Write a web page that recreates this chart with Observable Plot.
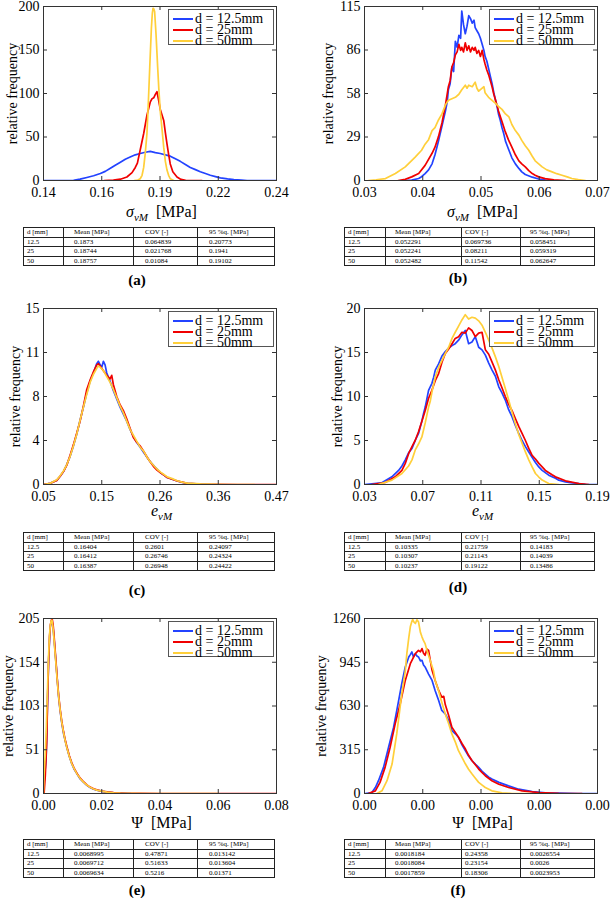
<!DOCTYPE html>
<html><head><meta charset="utf-8">
<script src="https://cdn.jsdelivr.net/npm/d3@7"></script>
<script src="https://cdn.jsdelivr.net/npm/@observablehq/plot@0.6"></script>
<style>
body{margin:0;background:#fff;}
#page{position:relative;width:610px;height:898px;overflow:hidden;font-family:'Liberation Serif','DejaVu Serif',serif;color:#000;}
.plot{position:absolute;}
.plot text{font-family:'Liberation Serif','DejaVu Serif',serif;}
.legend{position:absolute;border:1px solid #555;background:#fff;box-sizing:border-box;padding-top:3px;}
.legend .row{height:11px;display:flex;align-items:center;white-space:nowrap;}
.legend .lt{display:inline-block;height:11px;line-height:11px;font-size:14px;}
.legend .sw{width:20px;height:0;border-top:2px solid;margin:0 2px 0 4px;}
table.st{position:absolute;border-collapse:collapse;font-size:7px;table-layout:fixed;}
table.st td{border:1px solid #222;padding:0;height:8.5px;line-height:8px;white-space:nowrap;}
.xl{position:absolute;transform:translate(-50%,-50%);font-size:16px;white-space:nowrap;}
.xl sub{font-size:11px;}
.sub{position:absolute;transform:translate(-50%,-50%);font-size:15px;font-weight:bold;}
</style>
</head><body><div id="page"></div>
<script>
// ---------------- DATA ----------------
const seriesNames = ["d = 12.5mm", "d = 25mm", "d = 50mm"];
const colors = ["#2343ff", "#f00000", "#ffcf3a"];
const tableHeader = ["d [mm]", "Mean [MPa]", "COV [-]", "95 %q. [MPa]"];

// (a) sigma_vM
const aXT = [0.14, 0.165, 0.19, 0.215, 0.24];
const aXL = ["0.14", "0.16", "0.19", "0.22", "0.24"];
const aYT = [0, 50, 100, 150, 200];
const aYL = ["0", "50", "100", "150", "200"];
const a125 = [[0.14,0],[0.150,0],[0.1529,0.3],[0.1557,1.5],[0.1586,3.5],[0.1615,5.5],[0.1644,8],[0.1665,10.5],[0.1687,14],[0.1708,17.5],[0.1730,21],[0.1751,24.5],[0.1772,27],[0.1794,29.5],[0.1815,31],[0.1837,32.5],[0.1858,33.5],[0.1880,32],[0.1901,31],[0.1923,29.5],[0.1944,28],[0.1966,25],[0.1987,22],[0.2009,18.5],[0.2030,15],[0.2052,12.5],[0.2073,10],[0.2095,8],[0.2116,6],[0.2138,4.5],[0.2159,3],[0.219,1.8],[0.2217,1],[0.225,0.4],[0.2274,0],[0.24,0]];
const a25 = [[0.1660,0],[0.1700,0.5],[0.1730,1.5],[0.1758,4],[0.1780,9],[0.1794,15],[0.1803,20],[0.1815,35],[0.1830,54],[0.1844,75],[0.1858,90],[0.1866,94],[0.1873,95],[0.1880,99],[0.1887,102],[0.1893,94],[0.1901,82],[0.1909,75],[0.1916,69],[0.1923,55],[0.1930,42],[0.1937,30],[0.1944,19],[0.1955,10],[0.1973,4],[0.1990,1.2],[0.2010,0.3],[0.2080,0]];
const a50 = [[0.1790,0],[0.1805,0.5],[0.1815,2],[0.1823,6],[0.1830,15],[0.1837,32],[0.1844,54],[0.1850,90],[0.1856,130],[0.1863,175],[0.1867,192],[0.1870,198],[0.1874,197],[0.1877,194],[0.1883,168],[0.1890,130],[0.1895,105],[0.1901,80],[0.1909,58],[0.1916,38],[0.1923,22],[0.1930,12],[0.1937,6],[0.1944,2],[0.1959,0]];
const aTable = [["12.5","0.1873","0.064839","0.20773"],["25","0.18744","0.021768","0.1941"],["50","0.18757","0.01084","0.19102"]];

// (b) sigma_vM
const bXT = [0.03, 0.04, 0.05, 0.06, 0.07];
const bXL = ["0.03", "0.04", "0.05", "0.06", "0.07"];
const bYT = [0, 28.75, 57.5, 86.25, 115];
const bYL = ["0", "29", "58", "86", "115"];
const b125 = [[0.0370,0],[0.0381,0.3],[0.0393,1.3],[0.0398,2.5],[0.0404,4.6],[0.0410,7],[0.0416,11],[0.0421,17],[0.0427,26],[0.0433,36],[0.0439,46],[0.0442,52],[0.0444,60],[0.0447,64],[0.0450,75],[0.0453,72],[0.0456,92],[0.0459,88],[0.0462,96],[0.0465,94],[0.0467,112],[0.0470,103],[0.0473,97],[0.0476,102],[0.0479,109],[0.0482,107],[0.0485,104],[0.0488,106],[0.0490,101],[0.0493,99],[0.0496,97],[0.0499,94],[0.0502,90],[0.0505,86],[0.0507,82],[0.0510,79],[0.0513,74],[0.0516,69],[0.0519,64],[0.0522,58],[0.0525,53],[0.0528,48],[0.0530,44],[0.0533,40],[0.0536,35],[0.0539,31],[0.0542,26],[0.0545,23],[0.0548,20],[0.0553,15],[0.0559,11],[0.0565,8],[0.0570,5.7],[0.0576,4],[0.0588,2.2],[0.0599,1],[0.0611,0.3],[0.0625,0]];
const b25 = [[0.0358,0],[0.0370,0.8],[0.0381,2.4],[0.0393,4.6],[0.0404,10],[0.0416,18],[0.0421,22],[0.0427,29],[0.0433,38],[0.0439,50],[0.0444,62],[0.0447,66],[0.0450,75],[0.0453,78],[0.0456,83],[0.0459,85],[0.0462,90],[0.0465,86],[0.0467,88],[0.0470,85],[0.0473,91],[0.0476,86],[0.0479,89],[0.0482,85],[0.0485,88],[0.0488,86],[0.0490,88],[0.0493,84],[0.0496,86],[0.0499,82],[0.0502,86],[0.0505,80],[0.0507,77],[0.0510,73],[0.0513,70],[0.0516,66],[0.0519,62],[0.0522,57],[0.0525,53],[0.0528,49],[0.0530,46],[0.0536,39],[0.0541,33],[0.0547,27],[0.0553,22],[0.0559,17],[0.0565,13],[0.0570,11],[0.0576,9],[0.0582,6.5],[0.0588,4.6],[0.0593,3.5],[0.0599,2.4],[0.0610,1.2],[0.0625,0.4],[0.0645,0]];
const b50 = [[0.0307,0],[0.0320,0.5],[0.0336,1.3],[0.0353,4.6],[0.0370,9],[0.0387,15.5],[0.0398,20],[0.0404,24],[0.0410,27],[0.0416,33],[0.0421,35],[0.0427,40],[0.0433,44],[0.0439,50],[0.0444,53],[0.0450,54],[0.0456,55],[0.0462,57],[0.0467,60],[0.0473,63],[0.0476,61],[0.0479,63],[0.0485,62],[0.0490,65],[0.0493,61],[0.0496,59],[0.0502,61],[0.0505,62],[0.0507,58],[0.0513,55],[0.0519,53],[0.0525,51],[0.0530,49],[0.0536,47],[0.0542,44],[0.0548,42],[0.0553,37],[0.0559,33],[0.0565,30],[0.0570,26.5],[0.0576,23],[0.0582,20],[0.0588,16],[0.0593,13],[0.0599,11],[0.0605,9],[0.0613,7],[0.0622,5.7],[0.0630,4.5],[0.0639,3.5],[0.0648,2.4],[0.0656,1.3],[0.0667,0.6],[0.0679,0]];
const bTable = [["12.5","0.052291","0.069736","0.058451"],["25","0.052241","0.08211","0.059319"],["50","0.052482","0.11542","0.062647"]];

// (c) e_vM
const cXT = [0.05, 0.155, 0.26, 0.365, 0.47];
const cXL = ["0.05", "0.15", "0.26", "0.36", "0.47"];
const cYT = [0, 3.75, 7.5, 11.25, 15];
const cYL = ["0", "4", "8", "11", "15"];
const c125 = [[0.05,0],[0.062,0.1],[0.074,0.37],[0.080,0.7],[0.086,1.1],[0.092,1.7],[0.098,2.4],[0.104,3.3],[0.110,4.3],[0.116,5.5],[0.122,6.6],[0.128,7.8],[0.134,8.8],[0.140,9.5],[0.146,10.3],[0.149,10.5],[0.152,10.2],[0.155,10.0],[0.158,10.5],[0.161,10.2],[0.164,9.5],[0.170,8.8],[0.176,8.0],[0.182,7.3],[0.188,6.6],[0.194,6.0],[0.200,5.4],[0.206,4.7],[0.212,4.1],[0.218,3.6],[0.224,3.2],[0.231,2.7],[0.237,2.3],[0.243,1.9],[0.249,1.6],[0.255,1.3],[0.261,1.0],[0.267,0.8],[0.273,0.6],[0.282,0.45],[0.291,0.3],[0.300,0.18],[0.309,0.1],[0.333,0.03],[0.350,0]];
const c25 = [[0.05,0],[0.062,0.1],[0.074,0.35],[0.080,0.7],[0.086,1.1],[0.092,1.65],[0.098,2.5],[0.104,3.4],[0.110,4.4],[0.116,5.4],[0.122,6.7],[0.128,8.1],[0.134,8.9],[0.140,9.6],[0.146,10.2],[0.149,10.3],[0.152,10.1],[0.158,9.7],[0.164,9.3],[0.170,9.0],[0.173,9.3],[0.176,8.5],[0.182,7.5],[0.188,6.8],[0.194,6.3],[0.200,5.6],[0.206,4.8],[0.212,4.0],[0.218,3.6],[0.224,3.3],[0.231,2.8],[0.237,2.3],[0.243,1.9],[0.249,1.5],[0.255,1.2],[0.261,1.0],[0.267,0.8],[0.273,0.6],[0.282,0.45],[0.291,0.3],[0.300,0.2],[0.309,0.1],[0.333,0.04],[0.360,0.02],[0.400,0],[0.470,0]];
const c50 = [[0.05,0],[0.062,0.1],[0.074,0.4],[0.080,0.75],[0.086,1.15],[0.092,1.7],[0.098,2.4],[0.104,3.3],[0.110,4.3],[0.116,5.5],[0.122,6.6],[0.128,7.7],[0.134,8.7],[0.140,9.4],[0.146,9.9],[0.149,10.1],[0.152,10.0],[0.158,9.7],[0.164,9.2],[0.170,8.7],[0.176,8.1],[0.182,7.4],[0.188,6.7],[0.194,6.1],[0.200,5.4],[0.206,4.7],[0.212,4.2],[0.218,3.7],[0.224,3.2],[0.231,2.8],[0.237,2.3],[0.243,1.9],[0.249,1.6],[0.255,1.3],[0.261,1.05],[0.267,0.85],[0.273,0.65],[0.282,0.5],[0.291,0.32],[0.300,0.2],[0.309,0.12],[0.333,0.05],[0.360,0.02],[0.380,0],[0.430,0]];
const cTable = [["12.5","0.16404","0.2601","0.24097"],["25","0.16412","0.26746","0.24324"],["50","0.16387","0.26948","0.24422"]];

// (d) e_vM
const dXT = [0.03, 0.07, 0.11, 0.15, 0.19];
const dXL = ["0.03", "0.07", "0.11", "0.15", "0.19"];
const dYT = [0, 5, 10, 15, 20];
const dYL = ["0", "5", "10", "15", "20"];
const d125 = [[0.0300,0],[0.0419,0.2],[0.0488,0.87],[0.0534,1.6],[0.0557,2.1],[0.0580,2.8],[0.0603,3.6],[0.0626,4.1],[0.0648,5.0],[0.0671,5.8],[0.0694,7.2],[0.0706,8.1],[0.0717,8.8],[0.0740,10.7],[0.0763,11.5],[0.0775,12.2],[0.0786,13.0],[0.0809,13.7],[0.0832,14.6],[0.0855,15.1],[0.0878,15.5],[0.0901,15.8],[0.0923,16.0],[0.0946,16.4],[0.0969,17.0],[0.0992,17.5],[0.1015,16.0],[0.1038,16.2],[0.1061,16.8],[0.1084,15.6],[0.1107,15.3],[0.1130,14.7],[0.1153,13.8],[0.1176,13.0],[0.1199,12.3],[0.1222,11.1],[0.1244,10.4],[0.1267,9.6],[0.1290,8.5],[0.1313,7.7],[0.1336,6.7],[0.1359,5.8],[0.1382,5.0],[0.1405,4.3],[0.1428,3.7],[0.1451,3.1],[0.1474,2.5],[0.1497,2.0],[0.1520,1.6],[0.1565,1.06],[0.1611,0.7],[0.1634,0.49],[0.1680,0.3],[0.1726,0.19],[0.1817,0.03],[0.1900,0]];
const d25 = [[0.0350,0],[0.0442,0.23],[0.0511,0.87],[0.0557,1.6],[0.0580,2.4],[0.0603,3.5],[0.0626,4.3],[0.0648,5.0],[0.0671,6.0],[0.0694,7.2],[0.0717,8.4],[0.0740,9.8],[0.0763,10.7],[0.0786,11.8],[0.0809,12.6],[0.0832,13.9],[0.0855,14.9],[0.0878,15.4],[0.0901,16.0],[0.0923,16.6],[0.0946,16.8],[0.0969,17.3],[0.0992,17.2],[0.1015,17.8],[0.1038,17.5],[0.1061,16.8],[0.1084,17.2],[0.1107,17.3],[0.1130,15.3],[0.1153,14.8],[0.1176,13.9],[0.1199,13.0],[0.1222,11.9],[0.1244,11.0],[0.1267,10.0],[0.1290,9.1],[0.1313,8.4],[0.1336,7.5],[0.1359,6.6],[0.1382,5.8],[0.1405,5.0],[0.1428,4.1],[0.1451,3.3],[0.1474,2.9],[0.1497,2.4],[0.1520,2.0],[0.1542,1.6],[0.1588,1.1],[0.1611,0.87],[0.1680,0.42],[0.1772,0.11],[0.1840,0]];
const d50 = [[0.0396,0],[0.0488,0.5],[0.0557,1.25],[0.0603,2.1],[0.0626,2.8],[0.0648,3.9],[0.0671,4.6],[0.0694,5.4],[0.0717,7.0],[0.0740,8.8],[0.0752,9.5],[0.0763,10.5],[0.0786,12.2],[0.0809,13.3],[0.0832,14.1],[0.0855,14.9],[0.0878,15.6],[0.0901,16.6],[0.0923,17.3],[0.0946,18.0],[0.0969,18.7],[0.0992,19.3],[0.1015,18.8],[0.1038,19.0],[0.1061,18.9],[0.1084,18.6],[0.1107,18.1],[0.1130,17.3],[0.1153,16.4],[0.1176,15.5],[0.1199,14.5],[0.1222,13.4],[0.1244,12.2],[0.1267,10.9],[0.1290,9.6],[0.1313,8.2],[0.1336,6.9],[0.1359,5.7],[0.1382,4.7],[0.1405,3.7],[0.1428,2.8],[0.1451,2.0],[0.1474,1.25],[0.1497,0.85],[0.1520,0.5],[0.1565,0.11],[0.1634,0]];
const dTable = [["12.5","0.10335","0.21759","0.14183"],["25","0.10307","0.21143","0.14039"],["50","0.10237","0.19122","0.13486"]];

// (e) Psi
const eXT = [0, 0.02, 0.04, 0.06, 0.08];
const eXL = ["0.00", "0.02", "0.04", "0.06", "0.08"];
const eYT = [0, 51.25, 102.5, 153.75, 205];
const eYL = ["0", "51", "103", "154", "205"];
const e125 = [[0.0000,0],[0.0003,18],[0.0009,40],[0.0014,110],[0.0017,150],[0.0020,175],[0.0023,195],[0.0026,200],[0.0029,201],[0.0032,197],[0.0034,190],[0.0037,178],[0.0040,165],[0.0044,148],[0.0048,130],[0.0052,113],[0.0057,97],[0.0063,82],[0.0069,70],[0.0075,61],[0.0080,54],[0.0089,43],[0.0097,35],[0.0106,28],[0.0115,23],[0.0126,17],[0.0138,13],[0.0149,9.5],[0.0160,7],[0.0172,5],[0.0183,3.9],[0.0200,2.5],[0.0218,1.6],[0.0241,0.8],[0.0264,0.4],[0.0300,0]];
const e25 = [[0.0002,0],[0.0006,20],[0.0011,60],[0.0015,125],[0.0018,160],[0.0021,185],[0.0024,198],[0.0027,203],[0.0030,204],[0.0033,198],[0.0036,186],[0.0039,172],[0.0043,154],[0.0047,135],[0.0052,115],[0.0057,99],[0.0063,84],[0.0069,72],[0.0075,62],[0.0080,55],[0.0089,44],[0.0097,36],[0.0106,29],[0.0115,23.5],[0.0126,18],[0.0138,13.5],[0.0149,10],[0.0160,7.5],[0.0172,5.5],[0.0183,4.2],[0.0200,2.8],[0.0218,1.8],[0.0241,1.0],[0.0264,0.6],[0.0290,0.3],[0.0330,0.1],[0.0400,0],[0.0800,0]];
const e50 = [[0.0000,0],[0.0002,22],[0.0006,45],[0.0010,80],[0.0014,125],[0.0017,158],[0.0020,182],[0.0023,196],[0.0026,202],[0.0029,203],[0.0032,196],[0.0035,185],[0.0038,172],[0.0042,155],[0.0046,137],[0.0051,117],[0.0057,98],[0.0063,83],[0.0069,71],[0.0075,61],[0.0080,54],[0.0089,43],[0.0097,35],[0.0106,28.5],[0.0115,23],[0.0126,17.5],[0.0138,13],[0.0149,10],[0.0160,7.2],[0.0172,5.2],[0.0183,4],[0.0200,2.7],[0.0218,1.7],[0.0241,0.9],[0.0264,0.5],[0.0300,0.2],[0.0350,0],[0.0600,0]];
const eTable = [["12.5","0.0068995","0.47871","0.013142"],["25","0.0069712","0.51633","0.013604"],["50","0.0069634","0.5216","0.01371"]];

// (f) Psi
const fXT = [0, 0.0015, 0.003, 0.0045, 0.006];
const fXL = ["0.00", "0.00", "0.00", "0.00", "0.00"];
const fYT = [0, 315, 630, 945, 1260];
const fYL = ["0", "315", "630", "945", "1260"];
const f125 = [[0.00002,0],[0.00019,7],[0.00028,43],[0.00036,92],[0.00049,188],[0.00062,333],[0.00075,477],[0.00088,670],[0.00096,790],[0.00105,911],[0.00110,950],[0.00114,983],[0.00118,1000],[0.00122,1019],[0.00126,985],[0.00131,1007],[0.00135,990],[0.00139,983],[0.00144,955],[0.00148,959],[0.00152,925],[0.00156,911],[0.00165,860],[0.00174,814],[0.00182,740],[0.00191,670],[0.00199,598],[0.00208,573],[0.00217,525],[0.00225,453],[0.00234,430],[0.00242,405],[0.00251,350],[0.00260,308],[0.00268,270],[0.00277,236],[0.00286,210],[0.00294,188],[0.00303,160],[0.00311,140],[0.00320,118],[0.00328,104],[0.00346,80],[0.00371,55],[0.00397,31],[0.00432,14],[0.00466,5],[0.00500,2],[0.00550,0],[0.00600,0]];
const f25 = [[0.00010,0],[0.00028,19],[0.00040,80],[0.00053,188],[0.00066,333],[0.00079,501],[0.00092,646],[0.00105,814],[0.00118,935],[0.00126,980],[0.00131,1007],[0.00139,1031],[0.00144,1020],[0.00148,1043],[0.00152,1010],[0.00156,995],[0.00161,1040],[0.00165,1031],[0.00170,950],[0.00174,887],[0.00182,814],[0.00191,742],[0.00199,694],[0.00204,700],[0.00208,640],[0.00217,560],[0.00225,477],[0.00234,440],[0.00242,405],[0.00251,360],[0.00260,320],[0.00268,275],[0.00277,236],[0.00286,205],[0.00294,176],[0.00303,150],[0.00311,128],[0.00328,92],[0.00346,67],[0.00371,43],[0.00406,19],[0.00449,7],[0.00500,1],[0.00560,0]];
const f50 = [[0.00032,0],[0.00045,19],[0.00058,92],[0.00071,212],[0.00083,429],[0.00096,718],[0.00105,880],[0.00109,1007],[0.00114,1120],[0.00118,1200],[0.00122,1240],[0.00124,1253],[0.00127,1235],[0.00131,1224],[0.00135,1250],[0.00139,1236],[0.00144,1160],[0.00148,1128],[0.00152,1100],[0.00156,1079],[0.00161,1030],[0.00169,959],[0.00178,880],[0.00182,814],[0.00191,740],[0.00195,694],[0.00208,573],[0.00217,500],[0.00225,429],[0.00234,370],[0.00242,308],[0.00251,260],[0.00260,212],[0.00268,175],[0.00277,140],[0.00286,108],[0.00294,80],[0.00303,60],[0.00311,43],[0.00328,19],[0.00354,5],[0.00380,0],[0.00430,0]];
const fTable = [["12.5","0.0018184","0.24358","0.0026554"],["25","0.0018084","0.23154","0.0026"],["50","0.0017859","0.18306","0.0023953"]];

// ---------------- LAYOUT ----------------
const FONT = "'Liberation Serif','DejaVu Serif',serif";
const page = document.getElementById("page");
const leftCols = [40, 70, 64, 77];
const rightCols = [41, 76, 59, 74];
const leftPad = [3, 10, 11, 11];
const rightPad = [3, 9, 3, 9];

const panels = [
  {id:"a", series:[a125,a25,a50], xt:aXT, xl:aXL, yt:aYT, yl:aYL, table:aTable, left:0, top:0, fl:43, fr:276, ft:6, fb:180, ylx:-31, xlab:'<i>σ</i><sub><i>vM</i></sub>&nbsp;&nbsp;[MPa]', xlabY:213, tabTop:227, subY:280},
  {id:"b", series:[b125,b25,b50], xt:bXT, xl:bXL, yt:bYT, yl:bYL, table:bTable, left:305, top:0, fl:364, fr:597, ft:6, fb:180, ylx:-36, xlab:'<i>σ</i><sub><i>vM</i></sub>&nbsp;&nbsp;[MPa]', xlabY:213, tabTop:227, subY:278},
  {id:"c", series:[c125,c25,c50], xt:cXT, xl:cXL, yt:cYT, yl:cYL, table:cTable, left:0, top:300, fl:43, fr:276, ft:308, fb:484, ylx:-28, xlab:'<i>e</i><sub><i>vM</i></sub>', xlabY:512, tabTop:532, subY:590},
  {id:"d", series:[d125,d25,d50], xt:dXT, xl:dXL, yt:dYT, yl:dYL, table:dTable, left:305, top:300, fl:364, fr:597, ft:308, fb:484, ylx:-27, xlab:'<i>e</i><sub><i>vM</i></sub>', xlabY:512, tabTop:532, subY:587},
  {id:"e", series:[e125,e25,e50], xt:eXT, xl:eXL, yt:eYT, yl:eYL, table:eTable, left:0, top:600, fl:43, fr:276, ft:618, fb:793, ylx:-35, xlab:'Ψ&nbsp;&nbsp;[MPa]', xlabY:823, tabTop:839, subY:890},
  {id:"f", series:[f125,f25,f50], xt:fXT, xl:fXL, yt:fYT, yl:fYL, table:fTable, left:305, top:600, fl:364, fr:597, ft:618, fb:793, ylx:-43, xlab:'Ψ&nbsp;&nbsp;[MPa]', xlabY:823, tabTop:839, subY:890}
];

function el(tag, cls, html) { const e = document.createElement(tag); if (cls) e.className = cls; if (html != null) e.innerHTML = html; return e; }

for (const p of panels) {
  const W = 305, H = 225;
  const fw = p.fr - p.fl, fh = p.fb - p.ft;
  const ml = p.fl - p.left, mr = p.left + W - p.fr, mt = p.ft - p.top, mb = p.top + H - p.fb;
  const xt = p.xt, xl = p.xl, yt = p.yt, yl = p.yl;
  const chart = Plot.plot({
    width: W, height: H,
    marginLeft: ml, marginRight: mr, marginTop: mt, marginBottom: mb,
    style: {fontFamily: FONT, fontSize: "14px", background: "transparent", overflow: "visible", color: "#000"},
    x: {domain: [xt[0], xt[xt.length-1]], ticks: xt, tickFormat: d => xl[xt.indexOf(d)], tickSize: 0, tickPadding: 7, label: null},
    y: {domain: [yt[0], yt[yt.length-1]], ticks: yt, tickFormat: d => yl[yt.indexOf(d)], tickSize: 0, tickPadding: 4, label: null},
    marks: [
      ...p.series.map((s, i) => Plot.line(s, {x: d => d[0], y: d => d[1], stroke: colors[i], strokeWidth: 1.7, clip: true})),
      Plot.frame({stroke: "#333", strokeWidth: 1}),
      Plot.tickX(xt, {x: d => d, insetTop: fh - 4, stroke: "#333"}),
      Plot.tickX(xt, {x: d => d, insetBottom: fh - 4, stroke: "#333"}),
      Plot.tickY(yt, {y: d => d, insetRight: fw - 4, stroke: "#333"}),
      Plot.tickY(yt, {y: d => d, insetLeft: fw - 4, stroke: "#333"}),
      Plot.text(["relative frequency"], {frameAnchor: "left", textAnchor: "middle", rotate: -90, dx: p.ylx, fontSize: 14, fill: "#000", fontFamily: FONT})
    ]
  });
  chart.classList.add("plot");
  chart.style.left = p.left + "px";
  chart.style.top = p.top + "px";
  page.appendChild(chart);

  // legend
  const lg = el("div", "legend");
  lg.style.left = (p.fr - 108) + "px";
  lg.style.top = (p.ft + 3) + "px";
  lg.style.width = "106px";
  lg.style.height = "36px";
  seriesNames.forEach((n, i) => {
    const row = el("div", "row");
    const sw = el("span", "sw"); sw.style.borderTopColor = colors[i];
    row.appendChild(sw);
    row.appendChild(el("span", "lt", n.replace(/ /g, "&nbsp;")));
    lg.appendChild(row);
  });
  page.appendChild(lg);

  // x label
  const xlabEl = el("div", "xl", p.xlab);
  xlabEl.style.left = ((p.fl + p.fr) / 2 + 2) + "px";
  xlabEl.style.top = p.xlabY + "px";
  page.appendChild(xlabEl);

  // table
  const isLeft = p.left === 0;
  const cols = isLeft ? leftCols : rightCols;
  const pads = isLeft ? leftPad : rightPad;
  const tb = el("table", "st");
  tb.style.left = (isLeft ? 23 : 344) + "px";
  tb.style.top = p.tabTop + "px";
  tb.style.width = cols.reduce((a, b) => a + b, 0) + "px";
  const cg = el("colgroup");
  cols.forEach(w => { const c = el("col"); c.style.width = w + "px"; cg.appendChild(c); });
  tb.appendChild(cg);
  [tableHeader, ...p.table].forEach(r => {
    const tr = el("tr");
    r.forEach((v, j) => { const td = el("td", null, v); td.style.paddingLeft = pads[j] + "px"; tr.appendChild(td); });
    tb.appendChild(tr);
  });
  page.appendChild(tb);

  // subfigure label
  const s = el("div", "sub", "(" + p.id + ")");
  s.style.left = (isLeft ? 137 : 458) + "px";
  s.style.top = p.subY + "px";
  page.appendChild(s);
}
</script>
</body></html>
